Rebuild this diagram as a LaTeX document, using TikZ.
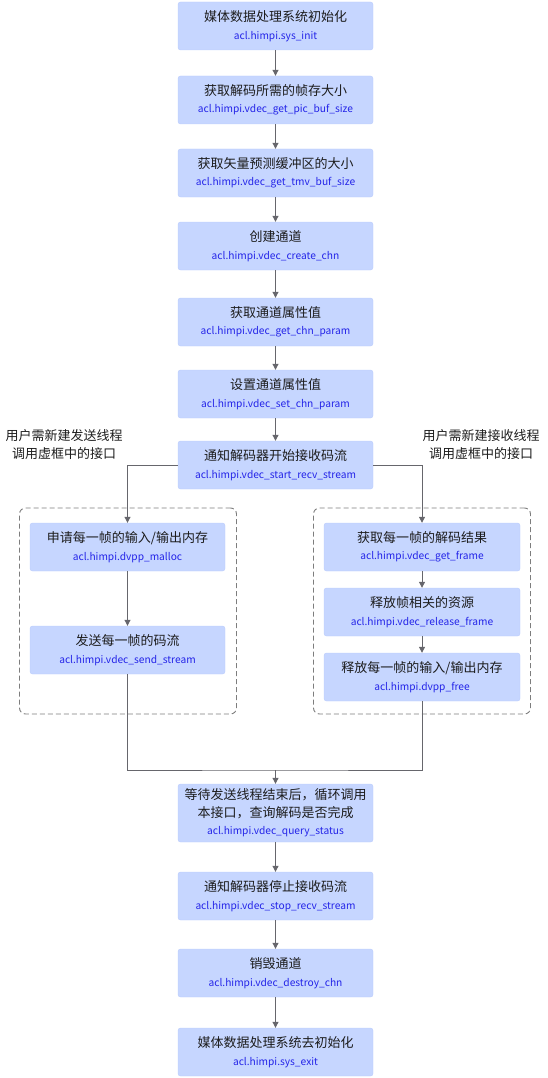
\documentclass[tikz,border=0pt]{standalone}
\usepackage{fontspec}
\setmainfont{Noto Sans CJK SC}
\usetikzlibrary{arrows.meta,positioning}
\definecolor{boxfill}{RGB}{198,214,255}
\definecolor{boxline}{RGB}{186,204,252}
\definecolor{codeblue}{RGB}{36,36,232}
\definecolor{linegray}{RGB}{102,102,108}
\definecolor{dashgray}{RGB}{125,125,125}
\definecolor{txt}{RGB}{28,28,28}
\newcommand{\api}[1]{\\{\color{codeblue}\fontsize{10.2}{12}\selectfont #1}}

\begin{document}
\begin{tikzpicture}[
  x=1pt,y=-1pt,
  >={Triangle[length=6pt,width=6pt]},
  stage/.style={draw=boxline,fill=boxfill,rounded corners=2.5pt,minimum width=195pt,minimum height=48pt,
    align=center,text=txt,inner sep=2pt,font=\fontsize{13}{17.5}\selectfont},
  group/.style={draw=dashgray,dash pattern=on 5pt off 3pt,line width=0.9pt,rounded corners=6pt,
    minimum width=217pt,minimum height=206pt},
  note/.style={align=center,text=txt,font=\fontsize{13}{18}\selectfont},
  flow/.style={draw=linegray,line width=1pt}
]
\useasboundingbox (0,0) rectangle (548,1078);

\node[stage] (init) at (275.5,26) {媒体数据处理系统初始化\api{acl.himpi.sys\_init}};
\node[stage] (picbuf) at (275.5,100) {获取解码所需的帧存大小\api{acl.himpi.vdec\_get\_pic\_buf\_size}};
\node[stage] (tmvbuf) at (275.5,173) {获取矢量预测缓冲区的大小\api{acl.himpi.vdec\_get\_tmv\_buf\_size}};
\node[stage] (create) at (275.5,246) {创建通道\api{acl.himpi.vdec\_create\_chn}};
\node[stage] (getparam) at (275.5,322) {获取通道属性值\api{acl.himpi.vdec\_get\_chn\_param}};
\node[stage] (setparam) at (275.5,394) {设置通道属性值\api{acl.himpi.vdec\_set\_chn\_param}};
\node[stage] (startrecv) at (275.5,465) {通知解码器开始接收码流\api{acl.himpi.vdec\_start\_recv\_stream}};

\node[note] (sendnote) at (64,445) {用户需新建发送线程\\调用虚框中的接口};
\node[note] (recvnote) at (481,445) {用户需新建接收线程\\调用虚框中的接口};

\node[group] (sendgrp) at (128,611) {};
\node[group] (recvgrp) at (422,611) {};

\node[stage] (malloc) at (127.5,547) {申请每一帧的输入/输出内存\api{acl.himpi.dvpp\_malloc}};
\node[stage] (sendstrm) at (127.5,650) {发送每一帧的码流\api{acl.himpi.vdec\_send\_stream}};

\node[stage,minimum width=196pt] (getframe) at (422,547) {获取每一帧的解码结果\api{acl.himpi.vdec\_get\_frame}};
\node[stage,minimum width=196pt] (relframe) at (422,612) {释放帧相关的资源\api{acl.himpi.vdec\_release\_frame}};
\node[stage,minimum width=196pt] (dvppfree) at (422,677) {释放每一帧的输入/输出内存\api{acl.himpi.dvpp\_free}};

\node[stage,minimum height=58pt] (query) at (275.5,813) {等待发送线程结束后，循环调用\\本接口，查询解码是否完成\api{acl.himpi.vdec\_query\_status}};
\node[stage] (stoprecv) at (275.5,896) {通知解码器停止接收码流\api{acl.himpi.vdec\_stop\_recv\_stream}};
\node[stage] (destroy) at (275.5,973) {销毁通道\api{acl.himpi.vdec\_destroy\_chn}};
\node[stage] (sysexit) at (275.5,1052) {媒体数据处理系统去初始化\api{acl.himpi.sys\_exit}};

\coordinate (join) at (275.5,770);

\draw[flow,->] (init) -- (picbuf);
\draw[flow,->] (picbuf) -- (tmvbuf);
\draw[flow,->] (tmvbuf) -- (create);
\draw[flow,->] (create) -- (getparam);
\draw[flow,->] (getparam) -- (setparam);
\draw[flow,->] (setparam) -- (startrecv);
\draw[flow,->] (startrecv.west) -| (malloc.north);
\draw[flow,->] (startrecv.east) -| (getframe.north);
\draw[flow,->] (malloc) -- (sendstrm);
\draw[flow,->] (getframe) -- (relframe);
\draw[flow,->] (relframe) -- (dvppfree);
\draw[flow] (sendstrm.south) |- (join) -| (dvppfree.south);
\draw[flow,->] (join) -- (query);
\draw[flow,->] (query) -- (stoprecv);
\draw[flow,->] (stoprecv) -- (destroy);
\draw[flow,->] (destroy) -- (sysexit);
\end{tikzpicture}
\end{document}
